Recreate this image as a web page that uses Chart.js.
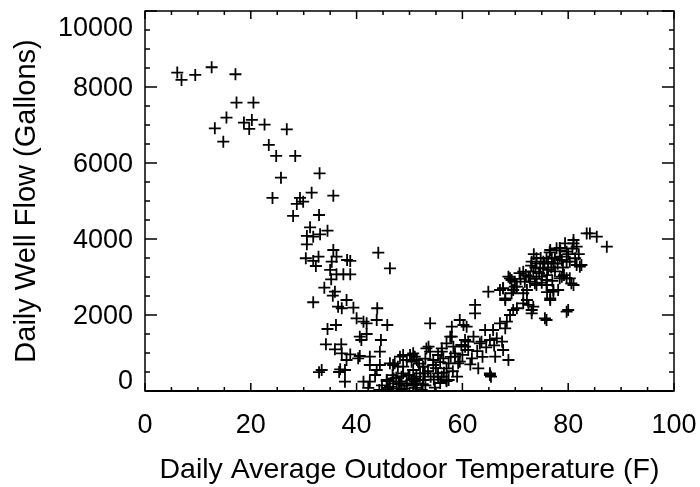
<!DOCTYPE html>
<html>
<head>
<meta charset="utf-8">
<script src="https://cdn.jsdelivr.net/npm/chart.js@4.4.1/dist/chart.umd.min.js"></script>
<style>
  html, body { margin: 0; padding: 0; background: #fff; }
  #wrap { width: 700px; height: 487px; }
</style>
</head>
<body>
<div id="wrap"><canvas id="flowChart" width="700" height="487"></canvas></div>
<script>
// temperature (F) and well flow (gallons)
const tempF = [
  6.1, 6.9, 9.5, 12.6, 17.1, 17.3, 20.5, 15.4, 13.2, 14.8, 18.7, 20.2, 19.7, 22.6, 26.8, 23.4, 24.8, 28.4, 25.7, 33.0,
  24.1, 29.3, 31.5, 35.6, 28.7, 29.9, 28.0, 32.9, 31.2, 30.6, 31.8, 33.1, 34.5, 30.6, 30.4, 31.8, 32.3, 32.8, 35.6, 36.2,
  35.3, 38.2, 38.8, 44.1, 46.3, 35.0, 36.2, 37.5, 38.8, 35.2, 33.9, 35.9, 35.5, 31.8, 36.5, 37.2, 38.1, 39.4, 40.0, 41.3,
  41.9, 43.9, 43.8, 45.8, 36.1, 34.5, 40.6, 40.9, 41.9, 44.6, 34.2, 37.1, 35.9, 37.2, 38.8, 38.1, 40.3, 40.6, 42.5, 44.4,
  42.5, 43.8, 44.4, 33.4, 36.9, 37.8, 37.8, 41.3, 42.5, 43.5, 45.7, 46.9, 46.3, 47.2, 48.2, 48.8, 50.1, 51.0, 49.5, 50.7,
  48.8, 51.3, 49.5, 50.7, 47.6, 46.3, 42.2, 44.3, 45.9, 46.9, 48.5, 49.4, 51.1, 52.3, 54.0, 56.1, 57.0, 65.4, 32.9, 36.7,
  45.7, 51.4, 50.7, 50.4, 51.4, 52.6, 53.6, 53.9, 54.5, 52.9, 52.6, 53.9, 55.4, 56.1, 56.4, 57.0, 57.4, 57.7, 58.0, 58.3,
  58.6, 59.2, 59.5, 60.2, 60.5, 61.1, 59.8, 61.8, 62.4, 62.4, 63.0, 63.6, 64.3, 64.9, 65.2, 65.2, 66.2, 65.8, 66.5, 67.1,
  68.1, 67.1, 67.7, 68.7, 68.1, 68.4, 69.0, 69.6, 70.3, 69.3, 70.3, 71.5, 72.2, 73.1, 72.5, 72.8, 74.0, 75.6, 68.7, 69.3,
  69.9, 67.7, 65.2, 50.4, 47.8, 48.5, 52.6, 52.0, 51.0, 53.2, 55.4, 56.1, 57.0, 58.0, 58.6, 57.0, 55.4, 54.5, 57.4, 59.5,
  60.5, 61.1, 62.1, 63.3, 60.8, 72.8, 74.0, 77.2, 80.0, 73.1, 73.4, 71.5, 67.7, 68.1, 69.0, 69.9, 69.6, 71.5, 71.8, 72.2,
  72.5, 73.1, 73.4, 73.7, 74.0, 74.7, 75.0, 75.3, 75.9, 76.6, 76.2, 76.9, 77.2, 77.8, 78.4, 78.8, 78.1, 76.6, 79.4, 79.7,
  80.3, 80.6, 81.0, 81.3, 81.6, 82.2, 83.5, 84.1, 85.4, 87.3, 81.0, 81.6, 78.4, 79.7, 75.9, 77.5, 78.8, 80.3, 82.5, 75.3,
  78.4, 79.7, 81.0, 75.9, 77.2, 76.6, 79.7, 75.9, 47.0, 48.0, 49.0, 50.0, 53.0, 54.8, 55.8, 44.8, 46.0, 70.8, 73.8, 76.0,
  73.0, 74.5, 75.5, 76.0, 76.8, 77.5, 78.0, 79.0, 74.0, 75.0, 73.5, 76.5, 78.5, 80.0, 80.8, 82.0, 79.2, 77.0, 72.0, 71.0,
  74.8, 76.2, 47.5, 48.2, 49.8, 50.8, 52.5, 53.5, 54.6, 55.0, 56.5, 58.2, 59.0, 46.8, 48.8, 51.8, 53.0, 55.8, 57.8, 60.0,
  61.5, 62.8, 63.8, 64.5, 66.0, 67.5
];
const flowGal = [
  8380, 8185, 8317, 8520, 8336, 7590, 7590, 7195, 6913, 6562, 7063, 7133, 6896, 7010, 6886, 6475, 6185, 6185, 5614, 5728,
  5080, 5080, 5219, 5140, 4922, 4982, 4606, 4632, 4306, 4080, 4061, 4124, 4219, 3861, 3493, 3422, 3290, 3535, 3711, 3535,
  3403, 3448, 3422, 3640, 3229, 3185, 3071, 3071, 3071, 2940, 2719, 2614, 2508, 2335, 2219, 2177, 2395, 2193, 1913, 1824,
  1780, 2177, 1869, 1737, 1737, 1632, 1429, 1342, 1500, 1342, 1229, 1229, 1097, 992, 963, 816, 860, 921, 903, 1034,
  684, 553, 684, 553, 571, 553, 245, 245, 245, 421, 290, 684, 729, 729, 903, 947, 947, 903, 816, 992,
  466, 376, 203, 158, 71, 113, 82, 26, 82, 200, 26, 142, 82, 26, 376, 376, 258, 376, 495, 500,
  263, 816, 553, 290, 203, 640, 1166, 1034, 816, 466, 290, 1782, 376, 1034, 860, 597, 290, 1429, 1692, 1166,
  903, 729, 1869, 1737, 1342, 1079, 1211, 860, 2264, 2045, 597, 1298, 1605, 2614, 1342, 421, 903, 1605, 1385, 1782,
  2395, 2658, 1079, 816, 1650, 1824, 2000, 2132, 2177, 2572, 2746, 2572, 2395, 2132, 2264, 2877, 2790, 1913, 3008, 2921,
  2746, 2703, 466, 771, 640, 376, 640, 466, 245, 1121, 947, 1121, 1253, 1429, 992, 290, 466, 684, 729, 771,
  1166, 1298, 1429, 1253, 1692, 3008, 3359, 2658, 2132, 2045, 2219, 2308, 2703, 2440, 2966, 2877, 2658, 3140, 2877, 2658,
  3008, 3403, 3140, 2834, 3493, 3229, 3008, 3403, 2921, 3711, 3185, 3493, 3359, 3755, 3535, 3008, 2658, 2440, 3887, 3403,
  2966, 2834, 3887, 3493, 3316, 3272, 4148, 4148, 4061, 3798, 3974, 3798, 3763, 3666, 3493, 3493, 3448, 3403, 3316, 3229,
  2966, 2966, 2790, 2790, 2614, 2395, 2088, 1869, 330, 180, 60, 420, 150, 90, 210, 150, 40, 3100, 3250, 2600,
  3300, 3100, 3350, 3050, 3250, 3150, 3350, 3250, 2950, 2850, 3600, 3650, 3700, 3600, 3750, 3600, 3050, 2900, 3050, 2950,
  3500, 3400, 350, 250, 420, 330, 180, 520, 300, 600, 480, 520, 380, 420, 640, 720, 850, 760, 900, 950,
  700, 1050, 900, 1150, 1200, 1300
];
const xTicks = [0, 20, 40, 60, 80, 100];
const yTicks = [0, 2000, 4000, 6000, 8000, 10000];

const FONT = '"Liberation Sans", Arial, Helvetica, sans-serif';

const points = tempF.map((t, i) => ({ x: t, y: flowGal[i] }));

// box, inward ticks on all four sides, and tick labels
const frame = {
  id: 'frame',
  afterDatasetsDraw(chart) {
    const { ctx, chartArea: a, scales: { x, y } } = chart;
    ctx.save();
    ctx.strokeStyle = '#000';
    ctx.lineWidth = 1.5;
    ctx.strokeRect(a.left, a.top, a.right - a.left, a.bottom - a.top);
    ctx.lineWidth = 2;
    ctx.beginPath();
    ctx.moveTo(a.left, a.bottom);
    ctx.lineTo(a.right, a.bottom);
    ctx.stroke();

    ctx.lineWidth = 1.5;
    ctx.beginPath();
    for (let v = 0; v <= 100; v += 5) {
      const px = x.getPixelForValue(v);
      const len = v % 20 === 0 ? 8 : 4;
      ctx.moveTo(px, a.bottom);
      ctx.lineTo(px, a.bottom - len);
      ctx.moveTo(px, a.top);
      ctx.lineTo(px, a.top + len);
    }
    for (let v = 0; v <= 10000; v += 500) {
      const py = y.getPixelForValue(v);
      const len = v % 2000 === 0 ? 12 : 5;
      ctx.moveTo(a.left, py);
      ctx.lineTo(a.left + len, py);
      ctx.moveTo(a.right, py);
      ctx.lineTo(a.right - len, py);
    }
    ctx.stroke();

    ctx.fillStyle = '#000';
    ctx.font = '27px ' + FONT;
    ctx.textBaseline = 'middle';
    ctx.textAlign = 'center';
    xTicks.forEach((v) => {
      const label = String(v);
      const w = ctx.measureText(label).width;
      let px = x.getPixelForValue(v);
      px = Math.min(px, chart.width - 2 - w / 2);
      ctx.fillText(label, px, a.bottom + 35);
    });
    ctx.textAlign = 'right';
    yTicks.forEach((v) => {
      let py = y.getPixelForValue(v) + 2;
      py = Math.max(29, Math.min(382, py));
      ctx.fillText(String(v), a.left - 12, py);
    });
    ctx.restore();
  }
};

new Chart(document.getElementById('flowChart'), {
  type: 'scatter',
  data: {
    datasets: [{
      data: points,
      pointStyle: 'cross',
      pointRadius: 6,
      pointHoverRadius: 6,
      borderColor: '#000',
      backgroundColor: '#000',
      pointBorderWidth: 1.8
    }]
  },
  options: {
    responsive: false,
    animation: false,
    events: [],
    layout: { padding: { left: 0, right: 26, top: 11, bottom: 0 } },
    plugins: { legend: { display: false }, tooltip: { enabled: false } },
    scales: {
      x: {
        type: 'linear',
        min: 0,
        max: 100,
        grid: { display: false },
        border: { display: false },
        ticks: { display: false },
        title: {
          display: true,
          text: 'Daily Average Outdoor Temperature (F)',
          color: '#000',
          font: { family: FONT, size: 28.5 },
          padding: { top: 0, bottom: 0 }
        },
        afterFit: (s) => { s.height = 96; }
      },
      y: {
        type: 'linear',
        min: 0,
        max: 10000,
        grid: { display: false },
        border: { display: false },
        ticks: { display: false },
        title: {
          display: true,
          text: 'Daily Well Flow (Gallons)',
          color: '#000',
          font: { family: FONT, size: 29 },
          padding: { top: 10, bottom: 0 }
        },
        afterFit: (s) => { s.width = 145; }
      }
    }
  },
  plugins: [frame]
});
</script>
</body>
</html>
